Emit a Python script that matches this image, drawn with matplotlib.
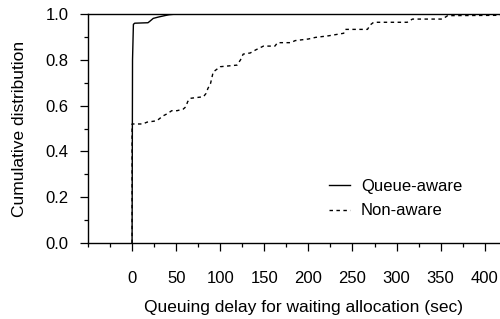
import matplotlib
matplotlib.use("Agg")
import matplotlib.pyplot as plt
from matplotlib.ticker import MultipleLocator

plt.rcParams["font.family"] = ["Liberation Sans", "DejaVu Sans"]
plt.rcParams["font.size"] = 12

# CDF breakpoints (delay in sec, cumulative fraction)
queue_x = [0, 0.5, 1.5, 3, 18, 20, 24, 30, 37, 42, 50, 440]
queue_y = [0, 0.80, 0.955, 0.96, 0.962, 0.968, 0.981, 0.987, 0.993, 0.997, 1.0, 1.0]

nonaware_x = [0, 0, 1, 12, 17, 28, 31, 35, 40, 45, 51, 58, 61, 63, 66, 81, 84, 86,
              89, 92, 100, 119, 123, 126, 134, 140, 149, 162, 165, 180, 185, 200,
              208, 223, 240, 242, 267, 270, 274, 312, 318, 352, 358, 440]
nonaware_y = [0, 0.52, 0.52, 0.52, 0.528, 0.534, 0.543, 0.555, 0.565, 0.578, 0.578,
              0.585, 0.595, 0.617, 0.632, 0.639, 0.654, 0.675, 0.697, 0.747, 0.77,
              0.777, 0.80, 0.825, 0.83, 0.843, 0.86, 0.86, 0.875, 0.875, 0.884,
              0.891, 0.898, 0.905, 0.916, 0.933, 0.933, 0.952, 0.964, 0.964, 0.978,
              0.978, 0.993, 0.995]

x_ticks = [0, 50, 100, 150, 200, 250, 300, 350, 400]
y_ticks = [0.0, 0.2, 0.4, 0.6, 0.8, 1.0]

fig = plt.figure(figsize=(5.0, 3.19), dpi=100)
# axes run past the right edge of the figure, as in the cropped original
ax = fig.add_axes([0.176, 0.238, 0.864, 0.718])

ax.plot(queue_x, queue_y, color="black", lw=1.0, label="Queue-aware")
ax.plot(nonaware_x, nonaware_y, color="black", lw=1.0, linestyle=(0, (2.5, 2.5)),
        label="Non-aware")

ax.set_xlim(-50, 440)
ax.set_ylim(0, 1.0)
ax.set_xticks(x_ticks)
ax.set_yticks(y_ticks)
ax.set_yticklabels([f"{v:.1f}" for v in y_ticks])
ax.xaxis.set_minor_locator(MultipleLocator(25))
ax.yaxis.set_minor_locator(MultipleLocator(0.1))

ax.spines["right"].set_visible(False)
for s in ["left", "bottom", "top"]:
    ax.spines[s].set_linewidth(1.0)
ax.tick_params(axis="both", which="major", direction="out", length=6, width=0.9)
ax.tick_params(axis="both", which="minor", direction="out", length=3, width=0.9)
ax.tick_params(axis="x", which="major", pad=14)
ax.tick_params(axis="y", which="major", pad=8)
ax.tick_params(top=False, right=False, which="both")

ax.set_xlabel("Queuing delay for waiting allocation (sec)", labelpad=10, fontsize=12.5)
ax.set_ylabel("Cumulative distribution", labelpad=13, fontsize=12.5)

ax.legend(loc="upper left", bbox_to_anchor=(0.658, 0.438),
          bbox_transform=fig.transFigure, frameon=False, borderpad=0,
          borderaxespad=0, handlelength=1.26, handletextpad=0.66,
          labelspacing=0.55)

fig.savefig("out.png", dpi=100)
